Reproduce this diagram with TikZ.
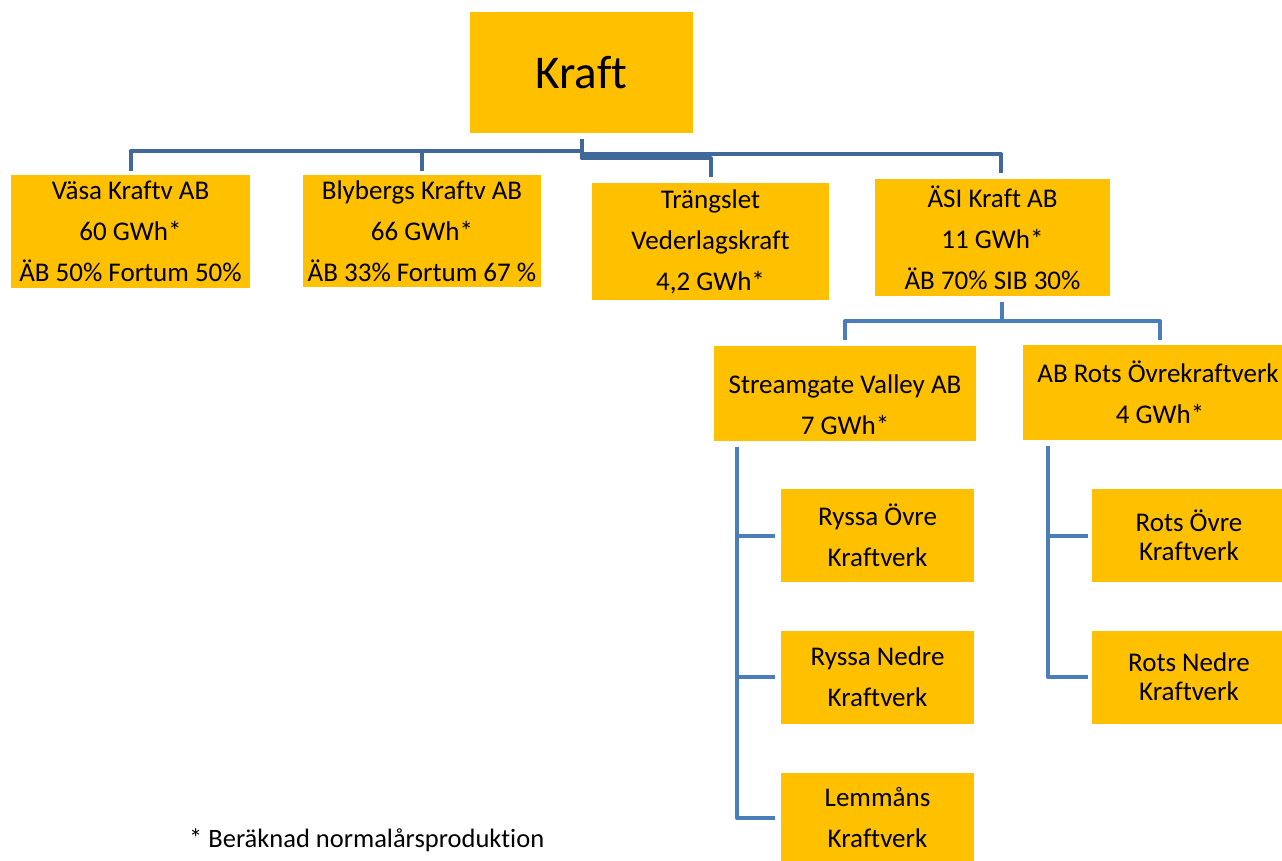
\documentclass[tikz,border=0pt]{standalone}
\usepackage{fontspec}
\setmainfont{Carlito}[Ligatures=NoCommon]
\usetikzlibrary{calc}
\definecolor{boxc}{RGB}{255,192,0}
\definecolor{lineA}{RGB}{64,104,152}
\definecolor{lineB}{RGB}{74,126,187}
\begin{document}
\begin{tikzpicture}[x=1pt,y=-1pt,
  box/.style={fill=boxc, inner sep=0pt, align=center, font=\fontsize{27}{41}\selectfont},
  tight/.style={font=\fontsize{27}{29}\selectfont},
  conn/.style={line width=4pt, draw=lineA, line join=round},
  connb/.style={line width=4pt, draw=lineB, line join=round}]
\useasboundingbox (0,0) rectangle (1282,861);
\clip (0,0) rectangle (1282,861);

\node[box, minimum width=223pt, minimum height=121pt, font=\fontsize{47}{50}\selectfont] (kraft) at (581.5,72.5) {Kraft};

\node[box, minimum width=239pt, minimum height=113pt] (vasa) at (130.5,231.5) {Väsa Kraftv AB\\60 GWh*\\ÄB 50\% Fortum 50\%};
\node[box, minimum width=238pt, minimum height=112pt] (bly) at (422,231) {Blybergs Kraftv AB\\66 GWh*\\ÄB 33\% Fortum 67 \%};
\node[box, minimum width=237pt, minimum height=117pt] (trang) at (710.5,241.5) {Trängslet\\Vederlagskraft\\4,2 GWh*};
\node[box, minimum width=235pt, minimum height=117pt] (asi) at (992.5,237.5) {ÄSI Kraft AB\\11 GWh*\\ÄB 70\% SIB 30\%};

\node[box, minimum width=262pt, minimum height=95pt] (sv) at (845,393) {};
\node[align=center, inner sep=0pt, font=\fontsize{27}{41}\selectfont] (svt) at (845,405) {Streamgate Valley AB\\7 GWh*};
\node[box, minimum width=274pt, minimum height=95pt] (abr) at (1160,392.5) {\hspace*{-4pt}AB Rots Övrekraftverk\\4 GWh*};

\node[box, minimum width=193pt, minimum height=93pt] (ro) at (877.5,535.5) {Ryssa Övre\\Kraftverk};
\node[box, minimum width=193pt, minimum height=93pt] (rn) at (877.5,677) {Ryssa Nedre\\Kraftverk};
\node[box, minimum width=193pt, minimum height=90pt] (lm) at (877.5,818) {Lemmåns\\Kraftverk};

\node[box, tight, minimum width=194pt, minimum height=93pt] (rto) at (1189,535.5) {Rots Övre\\Kraftverk};
\node[box, tight, minimum width=194pt, minimum height=93pt] (rtn) at (1189,677) {Rots Nedre\\Kraftverk};

\node[anchor=west, inner sep=0pt, font=\fontsize{26.5}{28}\selectfont] (note) at (189,840) {* Beräknad normalårsproduktion};

% top level connectors
\draw[conn] ($(kraft.south)+(0,6)$) -- ($(kraft.south)+(0,18)$) -| ($(vasa.north)+(0,-4)$);
\draw[conn] ($(kraft.south)+(0,6)$) -- ($(kraft.south)+(0,18)$) -| ($(bly.north)+(0,-4)$);
\draw[conn] ($(kraft.south)+(0,6)$) -- ($(kraft.south)+(0,25)$) -| ($(trang.north)+(0,-6)$);
\draw[conn] ($(kraft.south)+(0,6)$) -- ($(kraft.south)+(0,21)$) -| ($(asi.north)+(8.5,-6)$);

% second level
\draw[connb] ($(asi.south)+(9.5,6)$) -- ($(asi.south)+(9.5,25)$) -| ($(sv.north)+(0,-5)$);
\draw[connb] ($(asi.south)+(9.5,6)$) -- ($(asi.south)+(9.5,25)$) -| ($(abr.north)+(0,-5)$);

% third level
\draw[connb] ($(sv.south west)+(23,6)$) |- ($(ro.west)+(-6,0)$);
\draw[connb] ($(sv.south west)+(23,6)$) |- ($(rn.west)+(-6,0)$);
\draw[connb] ($(sv.south west)+(23,6)$) |- ($(lm.west)+(-6,0)$);
\draw[connb] ($(abr.south west)+(25,6)$) |- ($(rto.west)+(-4,0)$);
\draw[connb] ($(abr.south west)+(25,6)$) |- ($(rtn.west)+(-4,0)$);
\end{tikzpicture}
\end{document}
